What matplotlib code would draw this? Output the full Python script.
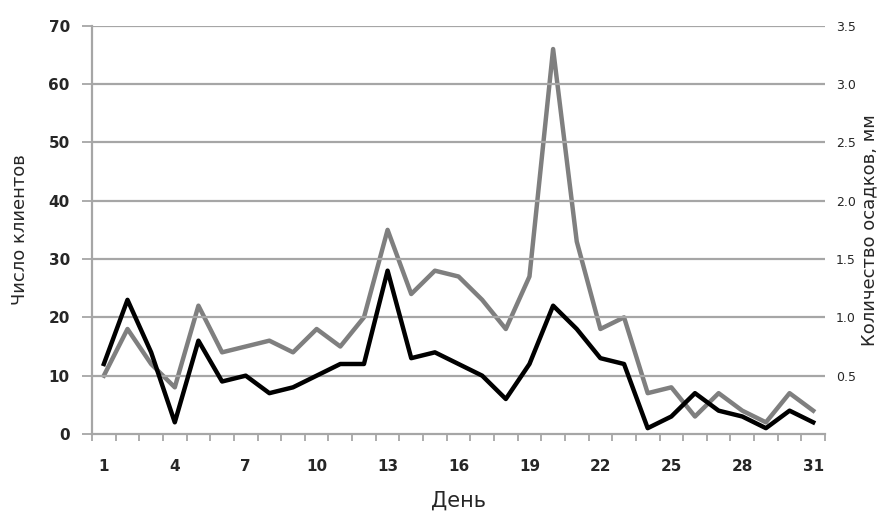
import numpy as np
import matplotlib.pyplot as plt
from matplotlib.ticker import FixedLocator

# данные по дням
days = list(range(1, 32))
clients = [12, 23, 14, 2, 16, 9, 10, 7, 8, 10, 12, 12, 28, 13, 14, 12,
           10, 6, 12, 22, 18, 13, 12, 1, 3, 7, 4, 3, 1, 4, 2]
rain_mm = [0.5, 0.9, 0.6, 0.4, 1.1, 0.7, 0.75, 0.8, 0.7, 0.9, 0.75, 1.0,
           1.75, 1.2, 1.4, 1.35, 1.15, 0.9, 1.35, 3.3, 1.65, 0.9, 1.0,
           0.35, 0.4, 0.15, 0.35, 0.2, 0.1, 0.35, 0.2]
day_labels = [1, 4, 7, 10, 13, 16, 19, 22, 25, 28, 31]
left_ticks = [0, 10, 20, 30, 40, 50, 60, 70]
right_ticks = [0.5, 1.0, 1.5, 2.0, 2.5, 3.0, 3.5]

plt.rcParams['font.family'] = ['DejaVu Sans']
grid_c = '#a6a6a6'
txt_c = '#262626'

fig = plt.figure(figsize=(8.9, 5.11), dpi=100)
ax = fig.add_axes([0.1034, 0.1507, 0.8236, 0.799])
ax2 = ax.twinx()

for y in left_ticks[1:]:
    ax.axhline(y, color=grid_c, lw=1.6, zorder=0)

ax2.plot(days, rain_mm, color='#7f7f7f', lw=3.2, solid_joinstyle='round')
ax.plot(days, clients, color='black', lw=3.2, solid_joinstyle='round', zorder=3)
ax.set_zorder(ax2.get_zorder() + 1)
ax.patch.set_visible(False)

ax.set_xlim(0.5, 31.5)
ax.set_ylim(0, 70)
ax2.set_ylim(0, 3.5)

ax.set_yticks(left_ticks)
ax.set_yticklabels([str(t) for t in left_ticks], fontsize=11, fontweight='bold', color=txt_c)
ax2.set_yticks(right_ticks)
ax2.set_yticklabels([f'{t:.1f}' for t in right_ticks], fontsize=9, color=txt_c)

ax.set_xticks(day_labels)
ax.set_xticklabels([str(d) for d in day_labels], fontsize=11, fontweight='bold', color=txt_c)
ax.xaxis.set_minor_locator(FixedLocator(np.arange(0.5, 32, 1)))
ax.tick_params(axis='x', which='major', length=0, pad=18)
ax.tick_params(axis='x', which='minor', length=5, width=1.3, color=grid_c)
ax.tick_params(axis='y', length=7, width=1.3, color=grid_c, pad=9)
ax2.tick_params(axis='y', length=0, pad=8)

for s in ['top', 'right']:
    ax.spines[s].set_visible(False)
for s in ['top', 'right', 'left', 'bottom']:
    ax2.spines[s].set_visible(False)
ax.spines['left'].set_color(grid_c)
ax.spines['left'].set_linewidth(1.6)
ax.spines['bottom'].set_color(grid_c)
ax.spines['bottom'].set_linewidth(1.6)

ax.set_xlabel('День', fontsize=15, labelpad=12, color=txt_c)
ax.set_ylabel('Число клиентов', fontsize=13, labelpad=14, color=txt_c)
ax2.set_ylabel('Количество осадков, мм', fontsize=13, labelpad=3, color=txt_c)

fig.savefig('out.png', dpi=100)
